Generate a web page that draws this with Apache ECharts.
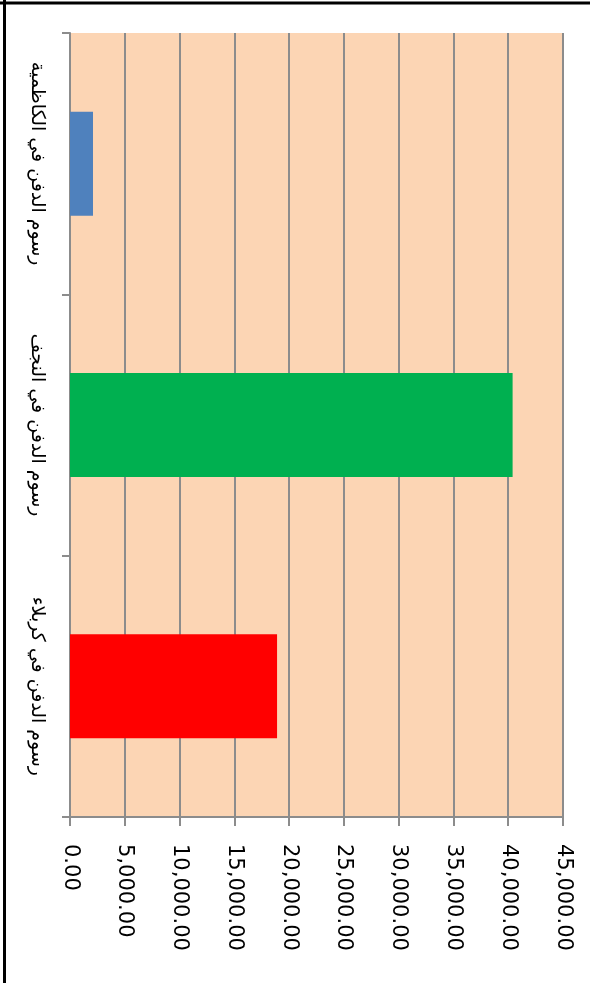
<!DOCTYPE html>
<html><head><meta charset="utf-8">
<script src="https://cdn.jsdelivr.net/npm/echarts@6/dist/echarts.min.js"></script>
<style>html,body{margin:0;padding:0;background:#fff}#c{width:590px;height:983px}</style>
</head><body><div id="c"></div>
<script>
const categories = ['رسوم الدفن في الكاظمية', 'رسوم الدفن في النجف', 'رسوم الدفن في كربلاء'];
const values = [2100, 40400, 18900];
const barColors = ['#4F81BD', '#00B050', '#FF0000'];
const valueTicks = [0, 5000, 10000, 15000, 20000, 25000, 30000, 35000, 40000, 45000];

const chart = echarts.init(document.getElementById('c'));
chart.setOption({
  animation: false,
  backgroundColor: '#fff',
  graphic: [
    {type: 'line', shape: {x1: 4.5, y1: 0, x2: 4.5, y2: 983}, style: {stroke: '#000', lineWidth: 3}},
    {type: 'line', shape: {x1: 0, y1: 3, x2: 590, y2: 3}, style: {stroke: '#000', lineWidth: 3}}
  ],
  grid: {left: 70, top: 33, width: 493, height: 784, show: true, backgroundColor: '#FCD5B4', borderWidth: 0},
  xAxis: {
    type: 'value', min: valueTicks[0], max: valueTicks[valueTicks.length - 1], interval: 5000,
    axisLine: {show: true, lineStyle: {color: '#8c8c8c', width: 2}},
    axisTick: {show: true, length: 9, lineStyle: {color: '#8c8c8c', width: 2}},
    splitLine: {show: true, lineStyle: {color: '#8c8c8c', width: 2}},
    axisLabel: {
      rotate: -90, margin: 27, fontSize: 21, color: '#000', fontFamily: 'DejaVu Sans',
      formatter: v => v.toLocaleString('en-US', {minimumFractionDigits: 2, maximumFractionDigits: 2})
    }
  },
  yAxis: {
    type: 'category', data: categories, inverse: true,
    axisLine: {show: true, lineStyle: {color: '#8c8c8c', width: 2}},
    axisTick: {show: true, interval: 0, length: 8, lineStyle: {color: '#8c8c8c', width: 2}},
    splitLine: {show: false},
    axisLabel: {interval: 0, rotate: -90, margin: 24, fontSize: 19, color: '#000', fontFamily: 'DejaVu Sans'}
  },
  series: [{
    type: 'bar',
    data: values.map((v, i) => ({value: v, itemStyle: {color: barColors[i]}})),
    barWidth: 104
  }]
});
</script></body></html>
